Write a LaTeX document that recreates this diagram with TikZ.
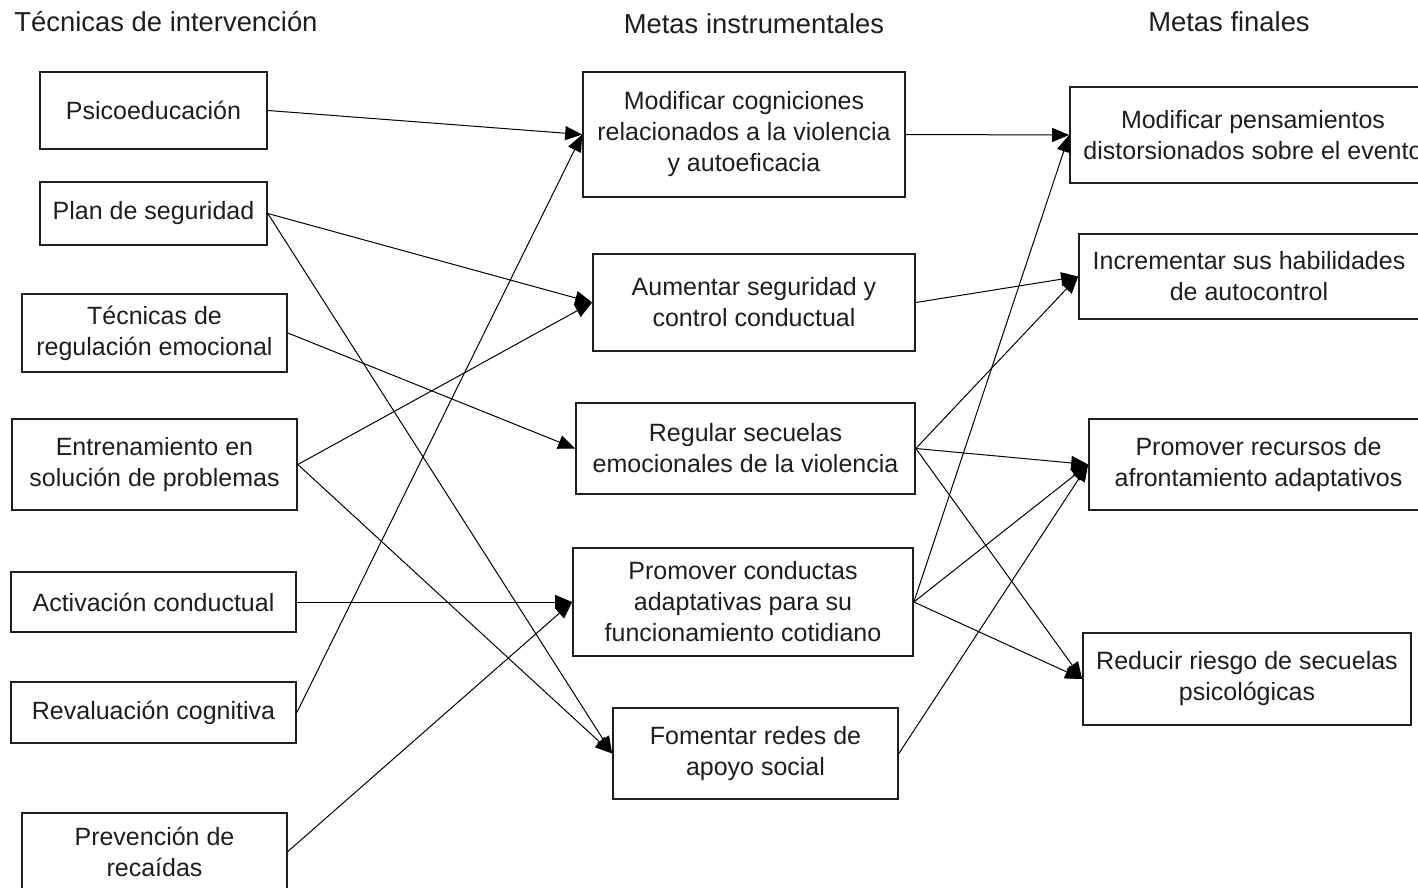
\documentclass[tikz,border=0pt]{standalone}
\usepackage{fontspec}
\setmainfont{Liberation Sans}
\usetikzlibrary{arrows.meta}
\definecolor{ink}{HTML}{1E1E1E}
\begin{document}
\begin{tikzpicture}[x=1pt,y=-1pt,
  box/.style={draw=ink, line width=1.7pt, inner sep=0pt, align=center,
    text=ink, font=\fontsize{25}{31}\selectfont},
  head/.style={text=ink, inner sep=0pt, font=\fontsize{27.4}{32}\selectfont},
  link/.style={draw=black, line width=1pt,
    -{Triangle[length=17pt,width=14pt]}}]
\useasboundingbox (0,0) rectangle (1418,888);
\clip (0,0) rectangle (1418,888);

% column headings
\node[head] (h1) at (166,22) {Técnicas de intervención};
\node[head] (h2) at (754,24) {Metas instrumentales};
\node[head] (h3) at (1229,22) {Metas finales};

% intervention techniques
\node[box, minimum width=227pt, minimum height=77pt] (psico)  at (153.5,110.5) {Psicoeducación};
\node[box, minimum width=227pt, minimum height=63pt] (plan)   at (153.5,213.5) {Plan de seguridad};
\node[box, minimum width=265pt, minimum height=78pt] (regem)  at (154.5,333)   {Técnicas de\\regulación emocional};
\node[box, minimum width=285pt, minimum height=91pt] (entren) at (154.5,464.5) {Entrenamiento en\\solución de problemas};
\node[box, minimum width=285pt, minimum height=60pt] (activ)  at (153.5,602)   {Activación conductual};
\node[box, minimum width=285pt, minimum height=61pt] (reval)  at (153.5,712.5) {Revaluación cognitiva};
\node[box, minimum width=265pt, minimum height=77pt] (preven) at (154.5,851.5) {Prevención de\\recaídas};

% instrumental goals
\node[box, minimum width=322pt, minimum height=125pt] (modcog)  at (744,134.5)   {Modificar cogniciones\\relacionados a la violencia\\y autoeficacia};
\node[box, minimum width=322pt, minimum height=97pt]  (aum)     at (754,302.5)   {Aumentar seguridad y\\control conductual};
\node[box, minimum width=339pt, minimum height=91pt]  (regsec)  at (745.5,448.5) {Regular secuelas\\emocionales de la violencia};
\node[box, minimum width=340pt, minimum height=108pt] (procond) at (743,602)     {Promover conductas\\adaptativas para su\\funcionamiento cotidiano};
\node[box, minimum width=285pt, minimum height=91pt]  (fom)     at (755.5,753.5) {Fomentar redes de\\apoyo social};

% final goals
\node[box, minimum width=366pt, minimum height=96pt] (modpen) at (1253,135)     {Modificar pensamientos\\distorsionados sobre el evento};
\node[box, minimum width=340pt, minimum height=85pt] (incr)   at (1249,276.5)   {Incrementar sus habilidades\\de autocontrol};
\node[box, minimum width=339pt, minimum height=91pt] (prorec) at (1258.5,464.5) {Promover recursos de\\afrontamiento adaptativos};
\node[box, minimum width=328pt, minimum height=92pt] (reduc)  at (1247,679)     {Reducir riesgo de secuelas\\psicológicas};

% techniques -> instrumental goals
\draw[link] (psico.east)  -- (modcog.west);
\draw[link] (plan.east)   -- (aum.west);
\draw[link] (plan.east)   -- (fom.west);
\draw[link] (regem.east)  -- (regsec.west);
\draw[link] (entren.east) -- (aum.west);
\draw[link] (entren.east) -- (fom.west);
\draw[link] (activ.east)  -- (procond.west);
\draw[link] (reval.east)  -- (modcog.west);
\draw[link] (preven.east) -- (procond.west);

% instrumental goals -> final goals
\draw[link] (modcog.east)  -- (modpen.west);
\draw[link] (aum.east)     -- (incr.west);
\draw[link] (regsec.east)  -- (incr.west);
\draw[link] (regsec.east)  -- (prorec.west);
\draw[link] (regsec.east)  -- (reduc.west);
\draw[link] (procond.east) -- (modpen.west);
\draw[link] (procond.east) -- (prorec.west);
\draw[link] (procond.east) -- (reduc.west);
\draw[link] (fom.east)     -- (prorec.west);
\end{tikzpicture}
\end{document}
